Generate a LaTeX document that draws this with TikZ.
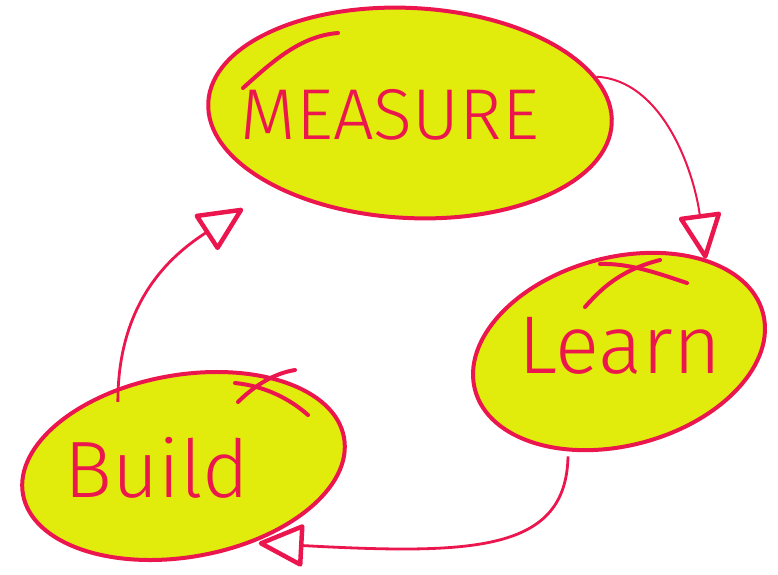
\documentclass[tikz,border=0pt]{standalone}
\usepackage{fontspec}
\newfontfamily\handfont{Fira Sans Light}
\usetikzlibrary{shapes.geometric,arrows.meta}
\definecolor{blobfill}{RGB}{225,236,12}
\definecolor{inkred}{RGB}{236,22,78}
\tikzset{
  blob/.style={ellipse, draw=inkred, fill=blobfill, line width=4pt, inner sep=0pt},
  word/.style={text=inkred, anchor=base, font=\handfont\fontsize{#1}{#1}\selectfont},
  flow/.style={draw=inkred, line width=2.8pt,
    -{Triangle[open,round,length=48pt,width=44pt,line width=4.5pt 0]}},
  overshoot/.style={draw=inkred, line width=4pt, line cap=round},
}
\begin{document}
\begin{tikzpicture}[x=1pt,y=1pt]
\useasboundingbox (0,0) rectangle (778,574);
% bubbles
\node[blob, minimum width=404pt, minimum height=210pt, rotate=-3] (measure) at (410,461) {};
\node[blob, minimum width=298pt, minimum height=188pt, rotate=15] (learn) at (619,222.5) {};
\node[blob, minimum width=326pt, minimum height=182pt, rotate=10] (build) at (183.5,108) {};
% pen overshoots
\draw[overshoot] (243,486) .. controls (272,512) and (300,538) .. (338,541);
\draw[overshoot] (585,267) .. controls (605,290) and (625,305) .. (660,314);
\draw[overshoot] (600,310) .. controls (630,311) and (660,300) .. (687,291);
\draw[overshoot] (238,172) .. controls (250,184) and (270,200) .. (295,204);
\draw[overshoot] (235,191) .. controls (265,188) and (290,175) .. (308,159);
% labels
\node[word=72] (measuretext) at (390,434) {MEASURE};
\node[word=82] (learntext) at (620,201) {Learn};
\node[word=80] (buildtext) at (157,77) {Build};
% cycle
\draw[flow, line width=2pt] (measure.14) .. controls +(65,-3) and +(-12,90) .. (learn.32);
\draw[flow, shorten <=5pt, shorten >=6pt] (learn.228) .. controls +(-2,-100) and +(222,-12) .. (build.302);
\draw[flow, shorten <=-14pt, shorten >=38pt] (build.120) .. controls +(0,90) and +(-100,-65) .. (measure.212);
\end{tikzpicture}
\end{document}
